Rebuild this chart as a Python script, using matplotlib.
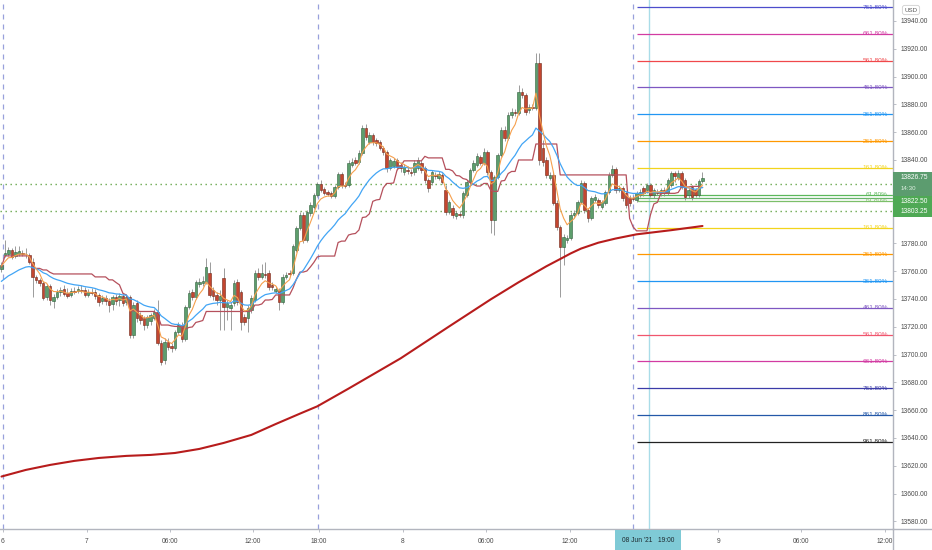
import matplotlib
matplotlib.use("Agg")
import matplotlib.pyplot as plt
import matplotlib.transforms as mtransforms
from matplotlib.patches import Rectangle
from matplotlib.lines import Line2D
import numpy as np

plt.rcParams['font.family'] = ['Liberation Sans', 'DejaVu Sans']

# ---------------- data (15-min candles, NQ) ----------------
opens = [13761.5, 13771.75, 13772.25, 13775.25, 13771.0, 13772.25, 13773.0, 13772.25, 13771.75, 13766.5,
         13755.75, 13753.75, 13751.5, 13741.5, 13749.25, 13738.5, 13741.5, 13745.0, 13747.25, 13744.25,
         13743.0, 13745.75, 13745.75, 13746.5, 13746.5, 13743.0, 13745.0, 13745.0, 13743.0, 13738.5,
         13740.75, 13738.5, 13736.5, 13741.5, 13739.25, 13742.25, 13737.75, 13741.5, 13714.0, 13737.0,
         13728.5, 13726.25, 13721.25, 13724.25, 13726.25, 13730.75, 13708.25, 13696.0, 13709.0, 13706.25,
         13704.75, 13716.25, 13721.25, 13711.25, 13734.25, 13745.0, 13741.5, 13750.75, 13751.5, 13752.25,
         13758.75, 13746.5, 13743.0, 13739.25, 13755.0, 13734.25, 13733.5, 13737.0, 13752.25, 13745.0,
         13727.0, 13726.25, 13732.0, 13739.25, 13758.75, 13755.75, 13758.0, 13758.75, 13750.0, 13745.75,
         13746.5, 13737.75, 13755.75, 13758.75, 13758.75, 13775.25, 13791.0, 13800.5, 13782.5, 13801.75,
         13806.25, 13814.75, 13822.75, 13819.25, 13817.0, 13816.25, 13814.0, 13820.5, 13830.0, 13822.0,
         13822.0, 13836.5, 13840.0, 13838.5, 13845.0, 13863.0, 13853.0, 13858.0, 13854.5, 13853.0,
         13848.75, 13845.75, 13834.25, 13835.75, 13840.0, 13836.5, 13831.25, 13832.75, 13831.25, 13831.25,
         13834.25, 13837.75, 13834.25, 13825.5, 13824.25, 13829.25, 13827.0, 13829.25, 13818.5, 13802.5,
         13805.5, 13799.75, 13801.25, 13800.5, 13814.75, 13824.25, 13832.75, 13836.5, 13842.25, 13837.75,
         13845.75, 13831.25, 13796.75, 13827.75, 13843.5, 13861.5, 13855.75, 13872.25, 13874.5, 13873.75,
         13889.0, 13886.75, 13876.0, 13878.0, 13877.5, 13909.75, 13848.75, 13840.0, 13827.0, 13829.25,
         13809.0, 13791.75, 13777.5, 13782.5, 13784.0, 13800.5, 13801.75, 13809.75, 13823.5, 13804.0,
         13798.25, 13811.25, 13811.25, 13806.25, 13809.0, 13817.0, 13829.25, 13833.5, 13818.5, 13819.75,
         13816.25, 13812.75, 13812.75, 13811.25, 13814.75, 13819.75, 13818.5, 13822.0, 13814.75, 13817.0,
         13816.25, 13818.5, 13816.25, 13822.0, 13830.75, 13827.0, 13830.75, 13825.5, 13814.75, 13820.5,
         13818.5, 13814.75, 13825.0]

highs = [13766.5, 13782.5, 13777.5, 13776.75, 13778.25, 13778.25, 13775.25, 13776.75, 13773.0, 13769.5,
         13757.25, 13755.0, 13753.0, 13750.75, 13750.75, 13743.5, 13747.25, 13748.75, 13750.0, 13748.0,
         13748.0, 13748.75, 13749.25, 13750.0, 13748.75, 13747.25, 13748.0, 13747.25, 13744.25, 13743.0,
         13743.0, 13740.75, 13743.0, 13743.5, 13744.25, 13743.5, 13743.0, 13743.0, 13737.75, 13739.25,
         13730.75, 13727.75, 13728.5, 13730.0, 13732.75, 13739.25, 13710.5, 13712.0, 13712.0, 13708.25,
         13717.75, 13723.5, 13723.5, 13735.75, 13746.5, 13747.25, 13753.75, 13755.0, 13756.5, 13769.5,
         13766.5, 13748.75, 13745.0, 13746.5, 13762.25, 13739.25, 13737.75, 13753.75, 13754.5, 13746.5,
         13729.25, 13735.75, 13743.0, 13760.75, 13762.25, 13765.25, 13766.5, 13760.75, 13752.25, 13749.25,
         13748.0, 13758.0, 13759.5, 13760.75, 13779.5, 13792.5, 13802.5, 13802.5, 13804.0, 13809.75,
         13816.25, 13824.25, 13825.5, 13820.5, 13818.5, 13817.75, 13822.0, 13831.25, 13831.25, 13824.25,
         13840.0, 13841.5, 13842.25, 13847.25, 13865.25, 13866.0, 13860.25, 13859.5, 13855.75, 13854.5,
         13850.0, 13847.25, 13841.5, 13841.5, 13841.5, 13838.5, 13837.0, 13835.75, 13833.5, 13840.0,
         13842.25, 13840.0, 13835.75, 13827.0, 13832.75, 13831.25, 13832.0, 13830.75, 13822.0, 13811.25,
         13807.5, 13803.25, 13803.25, 13817.75, 13825.5, 13834.25, 13840.0, 13845.0, 13843.5, 13848.75,
         13847.25, 13832.75, 13829.25, 13845.0, 13863.75, 13864.5, 13874.5, 13877.5, 13876.75, 13894.0,
         13891.75, 13888.25, 13880.25, 13880.25, 13917.0, 13917.0, 13854.5, 13842.25, 13831.25, 13830.75,
         13811.25, 13793.25, 13786.75, 13786.0, 13802.5, 13804.0, 13811.25, 13825.5, 13825.0, 13805.5,
         13814.0, 13815.5, 13812.75, 13811.25, 13818.5, 13831.25, 13836.5, 13835.0, 13822.0, 13821.25,
         13817.75, 13814.75, 13814.0, 13817.75, 13819.25, 13821.25, 13823.5, 13823.5, 13819.75, 13819.25,
         13819.75, 13820.5, 13827.0, 13832.0, 13832.0, 13832.75, 13832.0, 13827.0, 13819.75, 13822.0,
         13819.75, 13826.25, 13831.25]

lows = [13759.5, 13770.25, 13771.0, 13768.75, 13769.5, 13771.0, 13771.0, 13769.5, 13765.25, 13741.5,
        13751.5, 13749.25, 13739.25, 13739.25, 13735.75, 13733.5, 13740.0, 13742.25, 13742.25, 13740.75,
        13741.5, 13743.5, 13744.25, 13744.25, 13741.5, 13741.5, 13743.0, 13740.0, 13735.0, 13736.5,
        13735.75, 13730.75, 13732.0, 13735.75, 13735.0, 13735.0, 13735.75, 13712.0, 13712.0, 13723.5,
        13722.0, 13717.75, 13719.25, 13721.25, 13725.0, 13707.0, 13692.5, 13693.25, 13703.25, 13701.75,
        13703.25, 13714.75, 13709.0, 13709.75, 13732.75, 13739.25, 13740.0, 13748.75, 13749.25, 13750.75,
        13741.5, 13739.25, 13735.75, 13717.75, 13717.75, 13725.0, 13717.75, 13735.0, 13735.75, 13717.75,
        13721.25, 13716.25, 13730.0, 13737.75, 13753.75, 13754.5, 13755.0, 13746.5, 13746.5, 13744.25,
        13732.0, 13736.5, 13754.5, 13756.5, 13757.25, 13773.75, 13789.75, 13780.25, 13781.0, 13799.75,
        13804.75, 13813.5, 13817.0, 13814.75, 13814.0, 13812.75, 13812.75, 13819.25, 13819.75, 13819.75,
        13820.5, 13835.0, 13836.5, 13837.0, 13843.5, 13854.5, 13851.5, 13850.75, 13850.0, 13847.25,
        13843.5, 13831.25, 13832.75, 13834.25, 13832.75, 13831.25, 13829.25, 13830.0, 13828.5, 13829.25,
        13832.75, 13830.75, 13823.5, 13817.0, 13822.0, 13826.25, 13825.5, 13822.75, 13800.5, 13801.25,
        13798.25, 13797.5, 13799.0, 13798.25, 13813.5, 13822.75, 13831.25, 13835.0, 13836.5, 13836.5,
        13829.25, 13787.5, 13786.0, 13826.25, 13842.25, 13853.75, 13854.5, 13870.25, 13871.75, 13872.25,
        13884.5, 13872.25, 13873.75, 13876.0, 13876.0, 13836.5, 13835.75, 13827.0, 13825.5, 13807.5,
        13789.75, 13741.5, 13764.5, 13780.25, 13782.5, 13798.25, 13800.5, 13808.25, 13801.75, 13795.5,
        13796.75, 13809.75, 13805.5, 13804.75, 13807.5, 13815.5, 13827.75, 13816.25, 13817.0, 13810.5,
        13805.5, 13807.0, 13810.5, 13809.75, 13813.5, 13814.0, 13816.25, 13813.5, 13812.75, 13814.75,
        13814.0, 13814.0, 13814.75, 13820.5, 13824.25, 13825.5, 13819.25, 13811.25, 13812.75, 13811.25,
        13813.5, 13813.5, 13823.5]

closes = [13764.5, 13773.0, 13775.25, 13770.25, 13773.75, 13774.5, 13772.25, 13772.5, 13766.5, 13755.75,
          13753.75, 13751.5, 13740.75, 13749.25, 13739.25, 13741.5, 13745.0, 13746.5, 13743.5, 13742.25,
          13745.75, 13745.0, 13747.25, 13745.75, 13743.0, 13745.0, 13744.25, 13742.25, 13737.75, 13740.75,
          13738.5, 13735.75, 13741.5, 13738.5, 13742.25, 13737.0, 13741.5, 13714.0, 13735.75, 13726.25,
          13725.0, 13721.25, 13727.0, 13728.5, 13730.75, 13708.25, 13694.75, 13709.0, 13705.5, 13704.75,
          13716.25, 13721.25, 13711.25, 13734.25, 13744.25, 13741.5, 13752.25, 13752.25, 13753.0, 13763.0,
          13743.0, 13742.25, 13739.25, 13742.25, 13734.25, 13737.0, 13735.75, 13751.5, 13737.75, 13723.5,
          13723.5, 13733.5, 13740.75, 13758.75, 13755.75, 13758.75, 13757.25, 13748.75, 13748.75, 13747.25,
          13737.75, 13755.75, 13757.25, 13758.0, 13778.25, 13791.0, 13800.5, 13782.5, 13802.5, 13807.5,
          13814.75, 13822.75, 13818.5, 13816.25, 13815.5, 13814.0, 13820.5, 13830.0, 13822.0, 13821.25,
          13837.75, 13838.5, 13837.75, 13845.0, 13863.0, 13856.5, 13858.0, 13853.0, 13852.25, 13848.75,
          13845.75, 13834.25, 13840.0, 13839.25, 13835.0, 13834.25, 13835.0, 13832.0, 13830.75, 13837.75,
          13840.0, 13832.75, 13825.5, 13819.75, 13831.25, 13828.5, 13830.0, 13824.25, 13802.5, 13809.75,
          13800.5, 13801.75, 13800.5, 13816.25, 13824.25, 13832.75, 13837.75, 13843.0, 13837.75, 13845.75,
          13831.25, 13796.75, 13827.75, 13843.5, 13861.5, 13855.75, 13872.25, 13874.5, 13873.75, 13889.0,
          13886.75, 13874.5, 13878.0, 13877.5, 13909.75, 13840.0, 13838.5, 13829.25, 13829.25, 13809.0,
          13791.75, 13777.5, 13784.5, 13784.0, 13800.5, 13801.75, 13809.75, 13823.5, 13804.0, 13798.25,
          13812.75, 13813.5, 13807.5, 13809.75, 13817.0, 13829.25, 13833.5, 13818.5, 13819.75, 13812.75,
          13807.5, 13809.0, 13812.0, 13816.25, 13817.0, 13816.25, 13822.0, 13814.75, 13818.5, 13816.25,
          13818.5, 13816.25, 13825.5, 13830.75, 13828.5, 13830.75, 13820.5, 13813.5, 13818.5, 13813.5,
          13814.75, 13825.0, 13826.75]

# 200-period moving average at a set of bars
ma200_bars = [0, 7, 14, 21, 28, 36, 43, 50, 57, 64, 72, 79, 86, 91, 100, 115, 129, 141, 149, 157,
              161, 164, 167, 172, 177, 183, 193, 202]
ma200_vals = [13612.25, 13617.0, 13620.6, 13623.5, 13625.6, 13627.1, 13627.8, 13629.2, 13632.1, 13636.4,
              13642.2, 13650.0, 13657.5, 13662.75, 13675.5, 13697.25, 13720.25, 13739.75, 13752.0, 13763.5,
              13768.75, 13772.75, 13776.25, 13780.5, 13783.5, 13786.5, 13789.5, 13792.5]

# starting values of the EMAs at the left edge of the chart
ema_fast_start = 13763.5
ema_slow_start = 13751.5

# horizontal levels and Fibonacci extension anchors
level_low = 13803.25
level_high = 13822.50
fib_up_ratios = [0.5, 0.618, 1.618, 2.618, 3.618, 4.618, 5.618, 6.618, 7.618]
fib_up_labels = ["50.00%", "61.80%", "161.80%", "261.80%", "361.80%", "461.80%", "561.80%", "661.80%", "761.80%"]
fib_up_colors = ["#66b36a", "#5cb85c", "#f2d41c", "#ff9800", "#2196f3", "#7e57c2", "#f0484b", "#d23ba2", "#4d4dcc"]
fib_dn_ratios = [0.618, 1.618, 2.618, 3.618, 4.618, 5.618, 6.618, 7.618, 8.618, 9.618]
fib_dn_labels = ["61.80%", "161.80%", "261.80%", "361.80%", "461.80%", "561.80%", "661.80%", "761.80%", "861.80%", "961.80%"]
fib_dn_colors = ["#7cbf6a", "#f2d41c", "#ff9800", "#2196f3", "#7e57c2", "#f0566e", "#d23ba2", "#3b3ba8", "#2458a8", "#222222"]
fib_start_bar = 183.1

# time axis
time_tick_pos = [0.43, 24.6, 48.6, 72.5, 91.4, 115.7, 139.6, 163.7, 206.5, 230.4, 254.6]
time_tick_labels = ["6", "7", "06:00", "12:00", "18:00", "8", "06:00", "12:00", "9", "06:00", "12:00"]
session_breaks = [0.43, 91.2, 182.0]
cursor_bar = 186.6
cursor_label = "08 Jun '21   19:00"
last_time_left = "14:30"

price_ticks = list(range(13580, 13941, 20))
price_ticks_hidden = [13800, 13820]   # covered by the price tags on the axis

# ---------------- derived indicators ----------------
o = np.array(opens); h = np.array(highs); l = np.array(lows); c = np.array(closes)
h = np.maximum(h, np.maximum(o, c))
l = np.minimum(l, np.minimum(o, c))
n = len(c)
xs = np.arange(n)


def ema(vals, period, start):
    a = 2.0 / (period + 1)
    out = []
    e = start
    for v in vals:
        e = e + a * (v - e)
        out.append(e)
    return np.array(out)


ema_fast = ema(c, 5, ema_fast_start)
ema_slow = ema(c, 20, ema_slow_start)
kijun = np.array([(h[max(0, i - 25):i + 1].max() + l[max(0, i - 25):i + 1].min()) / 2 for i in range(n)])

# ---------------- figure ----------------
W, H = 932, 550
fig = plt.figure(figsize=(W / 100, H / 100), dpi=100)
fig.patch.set_facecolor("white")
ax = fig.add_axes([0, 21 / H, 893 / W, 529 / H])
ax.set_facecolor("white")
xmin, xmax = -0.43, 256.9
ax.set_xlim(xmin, xmax)
ax.set_ylim(13574.5, 13955.1)

# session break lines and crosshair
for sb in session_breaks:
    ax.axvline(sb, color="#98a0dc", lw=0.9, ls=(0, (4, 4)), zorder=1)
ax.axvline(cursor_bar, color="#a9dce8", lw=1.0, zorder=1)

# dotted horizontal levels
for lv in (level_high, level_low):
    ax.axhline(lv, color="#6aa84f", lw=1.0, ls=(0, (1.0, 2.6)), zorder=2)

# fib lines
base_tr = mtransforms.blended_transform_factory(ax.transAxes, ax.transData)
rng = level_high - level_low
for r, lab, col in zip(fib_up_ratios, fib_up_labels, fib_up_colors):
    p = level_low + r * rng
    ax.hlines(p, fib_start_bar, xmax, color=col, lw=0.9, zorder=2)
    if lab != "50.00%":
        ax.text(888 / 893, p, lab, transform=base_tr, ha="right", va="center",
                fontsize=4.6, color=col, zorder=6)
for r, lab, col in zip(fib_dn_ratios, fib_dn_labels, fib_dn_colors):
    p = level_high - r * rng
    ax.hlines(p, fib_start_bar, xmax, color=col, lw=0.9, zorder=2)
    ax.text(888 / 893, p, lab, transform=base_tr, ha="right", va="center",
            fontsize=4.6, color=col, zorder=6)

# candles
up = c >= o
ax.vlines(xs, l, h, color="#8c8c8c", lw=0.6, zorder=3)
body_bot = np.minimum(o, c)
body_h = np.maximum(np.abs(c - o), 0.45)
ax.bar(xs[up], body_h[up], bottom=body_bot[up], width=0.72, color="#5d9e6c",
       edgecolor="#2f5f3b", linewidth=0.4, zorder=4)
ax.bar(xs[~up], body_h[~up], bottom=body_bot[~up], width=0.72, color="#c4462f",
       edgecolor="#6e2719", linewidth=0.4, zorder=4)

# indicators
ax.plot(xs, kijun, color="#b5505c", lw=0.9, zorder=5)
ax.plot(xs, ema_slow, color="#42a5f5", lw=0.9, zorder=5)
ax.plot(xs, ema_fast, color="#f6a04d", lw=0.8, zorder=5)
ax.plot(ma200_bars, ma200_vals, color="#b71c1c", lw=1.5, zorder=5,
        solid_capstyle="round", solid_joinstyle="round")

# axes styling
for s in ("top", "left"):
    ax.spines[s].set_visible(False)
for s in ("right", "bottom"):
    ax.spines[s].set_color("#b2b5be")
    ax.spines[s].set_linewidth(1.0)
ax.yaxis.tick_right()
ax.set_yticks(price_ticks)
ax.set_yticklabels(["" if p in price_ticks_hidden else f"{p:.2f}" for p in price_ticks])
ax.tick_params(axis="y", direction="out", length=2.5, width=0.6, colors="#b2b5be",
               labelcolor="#4a4a4a", labelsize=4.8, pad=3)
ax.set_xticks(time_tick_pos)
ax.set_xticklabels(time_tick_labels)
ax.tick_params(axis="x", direction="out", length=2.5, width=0.6, colors="#b2b5be",
               labelcolor="#4a4a4a", labelsize=4.8, pad=4)

# extend axis lines to figure edges
fig.add_artist(Line2D([893 / W, 893 / W], [0, 21 / H], color="#b2b5be", lw=1.0, transform=fig.transFigure))
fig.add_artist(Line2D([893 / W, 1], [21 / H, 21 / H], color="#b2b5be", lw=1.0, transform=fig.transFigure))

# price labels on the right axis
last = c[-1]
boxes = [
    (last + 4.5, last - 12.6, "#5c9c6f"),
    (last - 12.6, last - 20.0, "#4fa955"),
    (last - 20.0, level_low - 4.4, "#4fa955"),
]
for top, bot, col in boxes:
    ax.add_patch(Rectangle((1.0, bot), 0.05, top - bot, transform=base_tr, facecolor=col,
                           edgecolor="none", clip_on=False, zorder=7))
ax.text(1.008, last + 0.3, f"{last:.2f}", transform=base_tr, ha="left", va="center",
        fontsize=4.8, color="white", clip_on=False, zorder=8)
ax.text(1.008, last - 7.4, last_time_left, transform=base_tr, ha="left", va="center",
        fontsize=4.4, color="#dff0e2", clip_on=False, zorder=8)
ax.text(1.008, last - 16.4, f"{level_high:.2f}", transform=base_tr, ha="left", va="center",
        fontsize=4.8, color="white", clip_on=False, zorder=8)
ax.text(1.008, level_low - 0.3, f"{level_low:.2f}", transform=base_tr, ha="left", va="center",
        fontsize=4.8, color="white", clip_on=False, zorder=8)

# crosshair time label
ctr = mtransforms.blended_transform_factory(ax.transData, fig.transFigure)
ax.text(cursor_bar - 0.3, 10 / H, cursor_label, transform=ctr, ha="center", va="center",
        fontsize=4.8, color="#1e2a30", clip_on=False, zorder=9,
        bbox=dict(boxstyle="square,pad=0.95", facecolor="#7fcad6", edgecolor="none"))

# currency tag
fig.text(911 / W, 1 - 10 / H, "USD", ha="center", va="center", fontsize=4.4, color="#555555",
         bbox=dict(boxstyle="round,pad=0.35,rounding_size=0.4", facecolor="white", edgecolor="#cfcfcf", lw=0.6))

fig.savefig("out.png", dpi=100, facecolor="white")
